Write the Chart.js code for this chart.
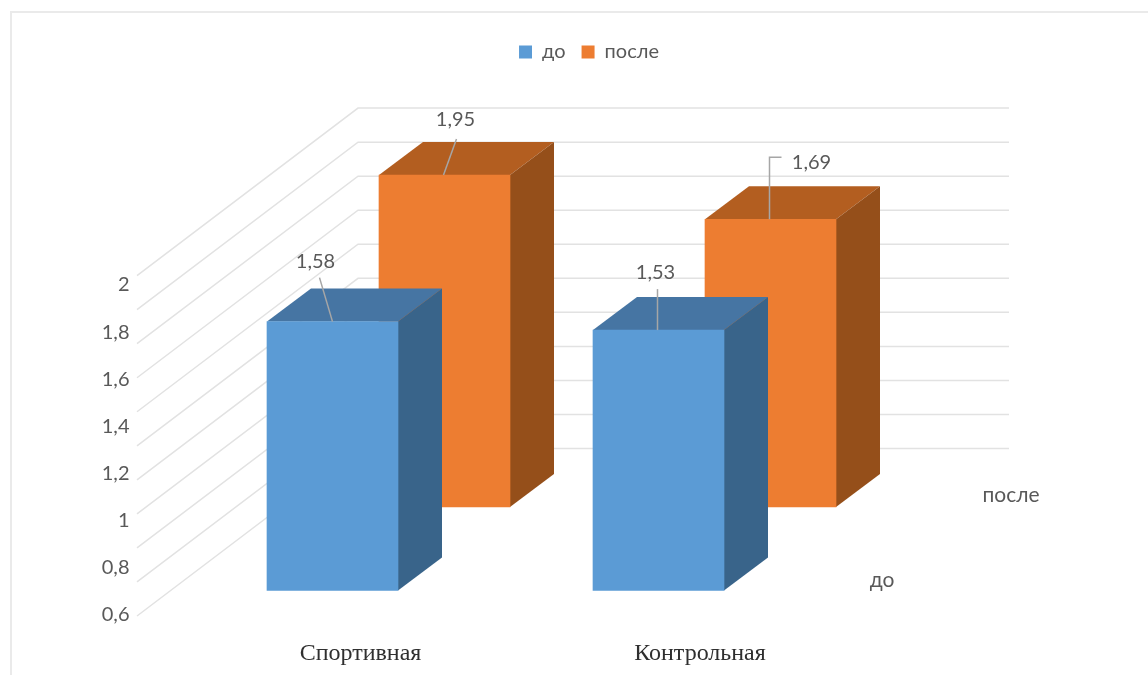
<!DOCTYPE html>
<html lang="ru">
<head>
<meta charset="utf-8">
<title>Спортивная и контрольная группы</title>
<script src="https://cdn.jsdelivr.net/npm/chart.js@4"></script>
<style>
  html, body { margin: 0; padding: 0; background: #fff; }
  #wrap { width: 1148px; height: 675px; position: relative; }
</style>
</head>
<body>
<div id="wrap"><canvas id="chart" width="1148" height="675"></canvas></div>
<script>
// Chart values
const categories = ['Спортивная', 'Контрольная'];
const seriesNames = ['до', 'после'];
const valuesBefore = [1.58, 1.53];
const valuesAfter = [1.95, 1.69];
const axisTicks = [0.6, 0.8, 1, 1.2, 1.4, 1.6, 1.8, 2];
const wallLevels = [0, 0.2, 0.4, 0.6, 0.8, 1, 1.2, 1.4, 1.6, 1.8, 2];

// Colours per row: front, top and side faces
const faces = [
  { front: '#5B9BD5', top: '#4675A3', side: '#39648A' },
  { front: '#ED7D31', top: '#B35E20', side: '#954F1A' }
];
const TEXT = '#595959';
const SANS = 'Lato, "Open Sans", sans-serif';

// Projection of the 3D box: depth of one bar and shift of the rear row
const DEPTH = { x: 44, y: -33 };
const ROW_SHIFT = [{ x: 0, y: 0 }, { x: 112, y: -83.5 }];

// Floor lines: front-left end, then the corner on the back wall
const WALL = { leftX: 137, leftDy: 25.5, cornerX: 358, cornerDy: -142, rightX: 1009 };

// Leader lines of the value labels, relative to the top-centre of each bar
const leaders = [
  [
    { label: [-17, -60], path: [[-13, -44], [0, 0]] },
    { label: [-3, -57.5], path: [[-1, -41], [-1, 0]] }
  ],
  [
    { label: [11, -56], path: [[12, -36], [-1, 0]] },
    { label: [41, -57], path: [[11, -62], [-1, -62], [-1, 0]] }
  ]
];

// Offsets of the group captions under their bars and of the depth axis captions
const categoryCaption = { y: 654, dx: [28, 41.5] };
const depthCaptions = [{ x: 882, y: 580 }, { x: 1011, y: 495 }];

const decimal = v => String(v).replace('.', ',');

const frame = {
  id: 'frame',
  beforeDraw(chart) {
    const { ctx } = chart;
    ctx.save();
    ctx.strokeStyle = '#EAEAEA';
    ctx.lineWidth = 2;
    ctx.beginPath();
    ctx.moveTo(11, 675);
    ctx.lineTo(11, 12);
    ctx.lineTo(1148, 12);
    ctx.stroke();
    ctx.restore();
  }
};

// Back wall and left wall lines, taken from the value scale
const walls = {
  id: 'walls',
  beforeDatasetsDraw(chart) {
    const { ctx } = chart;
    const scale = chart.scales.yv;
    ctx.save();
    ctx.strokeStyle = '#E2E2E2';
    ctx.lineWidth = 1.5;
    for (const level of wallLevels) {
      const p = scale.getPixelForValue(level);
      ctx.beginPath();
      ctx.moveTo(WALL.leftX, p + WALL.leftDy);
      ctx.lineTo(WALL.cornerX, p + WALL.cornerDy);
      ctx.lineTo(WALL.rightX, p + WALL.cornerDy);
      ctx.stroke();
    }
    ctx.restore();
  }
};

// Top and side faces of each bar; the front face is the bar element itself
const boxes = {
  id: 'boxes',
  beforeDatasetDraw(chart, { index, meta }) {
    const { ctx } = chart;
    const shift = ROW_SHIFT[index];
    const colour = faces[index];
    ctx.save();
    ctx.translate(shift.x, shift.y);
    for (const bar of meta.data) {
      const left = bar.x - bar.width / 2;
      const right = bar.x + bar.width / 2;
      ctx.fillStyle = colour.top;
      ctx.beginPath();
      ctx.moveTo(left, bar.y);
      ctx.lineTo(left + DEPTH.x, bar.y + DEPTH.y);
      ctx.lineTo(right + DEPTH.x, bar.y + DEPTH.y);
      ctx.lineTo(right, bar.y);
      ctx.closePath();
      ctx.fill();
      ctx.fillStyle = colour.side;
      ctx.beginPath();
      ctx.moveTo(right, bar.y);
      ctx.lineTo(right + DEPTH.x, bar.y + DEPTH.y);
      ctx.lineTo(right + DEPTH.x, bar.base + DEPTH.y);
      ctx.lineTo(right, bar.base);
      ctx.closePath();
      ctx.fill();
    }
  },
  afterDatasetDraw(chart) {
    chart.ctx.restore();
  }
};

// Value labels with leader lines, then the text captions around the box
const annotations = {
  id: 'annotations',
  afterDatasetsDraw(chart) {
    const { ctx } = chart;
    ctx.save();
    ctx.textAlign = 'center';
    ctx.textBaseline = 'middle';
    [valuesBefore, valuesAfter].forEach((values, row) => {
      const bars = chart.getDatasetMeta(row).data;
      values.forEach((value, i) => {
        const x = bars[i].x + ROW_SHIFT[row].x;
        const y = bars[i].y + ROW_SHIFT[row].y;
        const leader = leaders[row][i];
        ctx.strokeStyle = '#A6A6A6';
        ctx.lineWidth = 1.5;
        ctx.beginPath();
        leader.path.forEach(([dx, dy], k) => {
          if (k) ctx.lineTo(x + dx, y + dy); else ctx.moveTo(x + dx, y + dy);
        });
        ctx.stroke();
        ctx.fillStyle = TEXT;
        ctx.font = '20px ' + SANS;
        ctx.fillText(decimal(value), x + leader.label[0], y + leader.label[1]);
      });
    });
    ctx.fillStyle = '#2F2F2F';
    ctx.font = '24px "Liberation Serif", serif';
    categories.forEach((name, i) => {
      ctx.fillText(name, chart.scales.x.getPixelForValue(i) + categoryCaption.dx[i], categoryCaption.y);
    });
    ctx.fillStyle = TEXT;
    ctx.font = '21px ' + SANS;
    seriesNames.forEach((name, i) => {
      ctx.fillText(name, depthCaptions[i].x, depthCaptions[i].y);
    });
    ctx.restore();
  }
};

// Keeps the plot area below the legend at a fixed height
const legendSpace = {
  id: 'legendSpace',
  beforeInit(chart) {
    const fit = chart.legend.fit;
    chart.legend.fit = function () {
      fit.call(this);
      this.height = 259;
    };
  }
};

new Chart(document.getElementById('chart'), {
  type: 'bar',
  data: {
    labels: categories,
    datasets: [
      { label: seriesNames[0], data: valuesBefore, backgroundColor: faces[0].front, yAxisID: 'yv' },
      { label: seriesNames[1], data: valuesAfter, backgroundColor: faces[1].front, yAxisID: 'yv' }
    ]
  },
  plugins: [frame, walls, boxes, annotations, legendSpace],
  options: {
    responsive: false,
    animation: false,
    events: [],
    clip: false,
    layout: { padding: { left: 30, right: 0, top: 26, bottom: 60 } },
    datasets: { bar: { grouped: false, barThickness: 131, clip: false } },
    plugins: {
      tooltip: { enabled: false },
      legend: {
        position: 'top',
        labels: {
          color: TEXT,
          boxWidth: 13,
          boxHeight: 13,
          padding: 16,
          font: { family: SANS, size: 20 }
        }
      }
    },
    scales: {
      x: { display: false, offset: true, grid: { display: false } },
      y: {
        position: 'left',
        min: 0.6,
        max: 2,
        grid: { display: false },
        border: { display: false },
        afterBuildTicks(scale) { scale.ticks = axisTicks.map(value => ({ value })); },
        afterFit(scale) { scale.width = 139.5; },
        ticks: {
          color: TEXT,
          padding: 32,
          font: { family: SANS, size: 20 },
          callback: value => decimal(value)
        }
      },
      yv: {
        position: 'right',
        min: -0.1439,
        max: 1.795,
        grid: { display: false },
        border: { display: false },
        afterFit(scale) { scale.width = 326.5; },
        ticks: { display: false }
      }
    }
  }
});
</script>
</body>
</html>
